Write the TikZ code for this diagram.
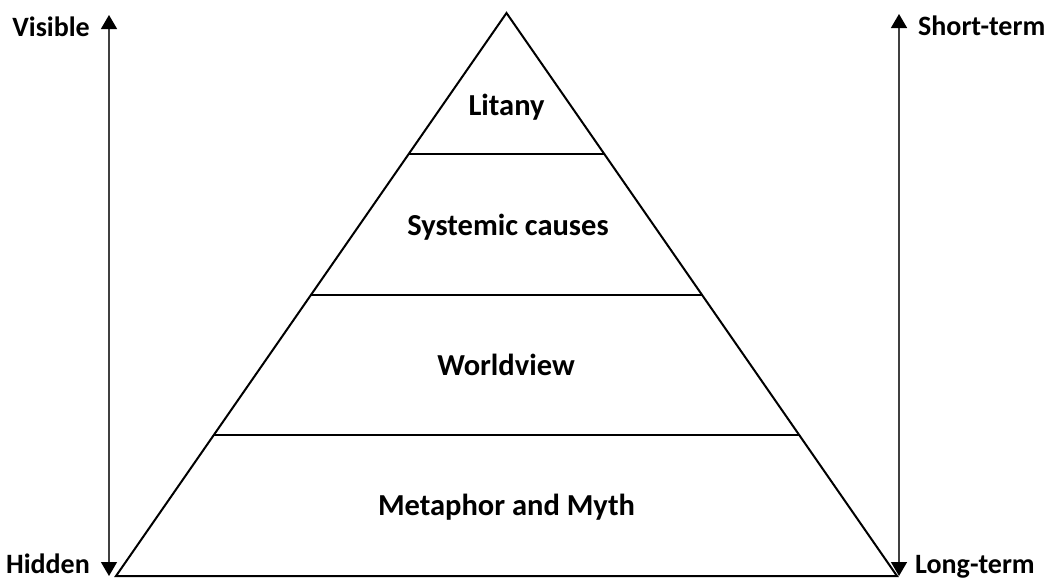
\documentclass[tikz,border=0pt]{standalone}
\usepackage{fontspec}
\setmainfont{Carlito}
\usetikzlibrary{calc,arrows.meta}
\tikzset{
  layer/.style={font=\fontsize{30.5}{36}\selectfont\bfseries, anchor=base, inner sep=0pt},
  side/.style={font=\fontsize{28}{34}\selectfont\bfseries, anchor=base, inner sep=0pt},
  pyr/.style={line width=2pt, black, line join=miter},
  axis/.style={line width=1.4pt, black!75, {Triangle[width=16pt,length=14pt,color=black]}-{Triangle[width=16pt,length=14pt,color=black]}}
}
\begin{document}
\begin{tikzpicture}[x=1pt,y=-1pt]
\useasboundingbox (0,0) rectangle (1051,579);
\fill[white] (0,0) rectangle (1051,579);
% pyramid
\coordinate (apex) at (506.5,13);
\coordinate (bl) at (116,576);
\coordinate (br) at (897,576);
\draw[pyr] (apex) -- (bl) -- (br) -- cycle;
\foreach \f/\n in {0.25/a,0.5/b,0.75/c}{
  \coordinate (l\n) at ($(apex)!\f!(bl)$);
  \coordinate (r\n) at ($(apex)!\f!(br)$);
  \draw[pyr] (l\n) -- (r\n);
}
% layer labels
\node[layer] (litany) at (506.5,115) {Litany};
\node[layer] (systemic) at (508,235) {Systemic causes};
\node[layer] (worldview) at (506,375) {Worldview};
\node[layer] (myth) at (506.5,515) {Metaphor and Myth};
% axes
\coordinate (ltop) at (109,15);
\coordinate (lbot) at (109,576);
\coordinate (rtop) at (899,14);
\coordinate (rbot) at (899,576);
\draw[axis] (lbot) -- (ltop);
\draw[axis] (rbot) -- (rtop);
\node[side, anchor=base east] (visible) at (90,36) {Visible};
\node[side, anchor=base east] (hidden) at (90,573) {Hidden};
\node[side, anchor=base west] (short) at (918,35) {Short-term};
\node[side, anchor=base west] (long) at (915,573) {Long-term};
\end{tikzpicture}
\end{document}
